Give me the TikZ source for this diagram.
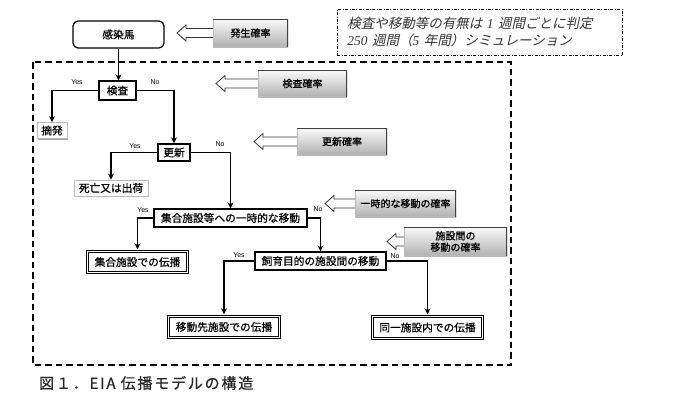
\documentclass[tikz,border=0pt]{standalone}
\usepackage{fontspec}
\setmainfont{Noto Sans CJK JP}
\newfontfamily\jpb[FakeBold=0.6]{Noto Sans CJK JP}
\newfontfamily\jpg[FakeBold=1.0]{Noto Sans CJK JP}
\newfontfamily\jit[FakeSlant=0.22]{Noto Sans CJK JP}
\newfontfamily\tms{Liberation Serif}
\newfontfamily\lsans{Liberation Sans}
\newfontfamily\capfont[LetterSpace=12,FakeBold=0.6]{Noto Sans CJK JP}
\usetikzlibrary{arrows.meta,shadows,backgrounds,calc}
\newcommand\probarrow[2]{%
  \draw[probarr] (#1) -- ($(#1)+(9,-8)$) -- ($(#1)+(9,-4.5)$)
    -- ($(#1 -| #2.west)+(1,-4.5)$) -- ($(#1 -| #2.west)+(1,4.5)$)
    -- ($(#1)+(9,4.5)$) -- ($(#1)+(9,8)$) -- cycle;}
\begin{document}
\begin{tikzpicture}[x=1pt,y=-1pt,
  flowbox/.style={draw=black, line width=1.2pt, fill=white, inner sep=1pt,
    font=\jpb\fontsize{10.7}{12}\selectfont},
  flowround/.style={flowbox, rounded corners=5pt},
  sbox/.style={draw=gray!55, line width=0.7pt, fill=white, inner sep=1pt,
    drop shadow={shadow xshift=1.3pt, shadow yshift=-1.3pt, fill=gray!70, opacity=1},
    font=\jpb\fontsize{10.7}{12}\selectfont},
  dbox/.style={draw=black, line width=1.1pt, double=white, double distance=1.6pt,
    inner sep=1pt, outer sep=2.2pt, font=\jpb\fontsize{10.7}{12}\selectfont},
  gbox/.style={draw=none, top color=gray!4, bottom color=gray!62, inner sep=1pt,
    align=center, text=black, font=\jpg\fontsize{10}{11.5}\selectfont,
    path picture={
      \draw[line width=1.2pt, gray!55] (path picture bounding box.north west) --
        (path picture bounding box.south west) -- (path picture bounding box.south east);
      \draw[line width=2pt, black!75] (path picture bounding box.north west) --
        (path picture bounding box.north east) -- (path picture bounding box.south east);}},
  probarr/.style={draw=gray!40!black, line width=0.8pt, fill=white, line join=miter},
  conn/.style={line width=1.3pt, -{Stealth[length=6pt,width=6pt,inset=1.8pt]}},
  lbl/.style={font=\lsans\fontsize{7}{8}\selectfont, inner sep=0pt}]
\useasboundingbox (0,0) rectangle (700,402);

% frames
\draw[line width=1.4pt, dash pattern=on 6.5pt off 4pt] (33,62) rectangle (511,365);
\node[draw, line width=0.7pt, dash pattern=on 3pt off 1.5pt on 0.8pt off 1.5pt,
  anchor=north west, minimum width=285pt, minimum height=46pt, align=left,
  inner xsep=10pt, text width=265pt, text=black!80,
  font=\fontsize{13.5}{17}\selectfont] (note) at (337,9)
  {\jit 検査や移動等の有無は {\tms\itshape 1} 週間ごとに判定\\
   {\tms\itshape 250} \jit 週間（{\tms\itshape 5} 年間）シミュレーション};

% main nodes
\node[flowround, minimum width=91pt, minimum height=27pt] (kansen) at (118.5,34.5) {感染馬};
\node[gbox, minimum width=75pt, minimum height=28pt] (p1) at (250.5,33) {発生確率};
\coordinate (t1) at (177,33);
\node[flowbox, minimum width=37pt, minimum height=19pt] (kensa) at (117.5,90.5) {検査};
\node[sbox, minimum width=30pt, minimum height=16pt] (teki) at (52,130.5) {摘発};
\node[gbox, minimum width=89pt, minimum height=27pt] (p2) at (302.5,83.5) {検査確率};
\coordinate (t2) at (216,83.5);
\node[flowbox, minimum width=32pt, minimum height=17pt] (koushin) at (174,152.5) {更新};
\node[gbox, minimum width=90pt, minimum height=27pt] (p3) at (342,141.5) {更新確率};
\coordinate (t3) at (254,141.5);
\node[sbox, minimum width=74pt, minimum height=16pt] (shibou) at (111,188) {死亡又は出荷};
\node[flowbox, minimum width=153pt, minimum height=18pt] (shugou) at (230.5,218) {集合施設等への一時的な移動};
\node[gbox, minimum width=101pt, minimum height=27pt] (p4) at (405.5,203.5) {一時的な移動の確率};
\coordinate (t4) at (325,203.5);
\node[dbox, minimum width=100pt, minimum height=21pt] (sdenpa) at (137.5,262) {集合施設での伝播};
\node[flowbox, minimum width=131pt, minimum height=18pt] (shiiku) at (320.5,261) {飼育目的の施設間の移動};
\node[gbox, minimum width=103pt, minimum height=29pt] (p5) at (455.5,241.5) {施設間の\\移動の確率};
\coordinate (t5) at (387,241.5);
\node[dbox, minimum width=111pt, minimum height=21pt] (idou) at (224,327) {移動先施設での伝播};
\node[dbox, minimum width=110pt, minimum height=22pt] (douitsu) at (427.5,327.5) {同一施設内での伝播};

% probability arrows
\begin{scope}[on background layer]
  \probarrow{t1}{p1}
  \probarrow{t2}{p2}
  \probarrow{t3}{p3}
  \probarrow{t4}{p4}
  \probarrow{t5}{p5}
\end{scope}

% connectors
\draw[conn] (kansen.south) -- (kansen.south |- kensa.north);
\draw[conn] (kensa.west) -| (teki.north);
\draw[conn] (kensa.east) -| (koushin.north);
\draw[conn] (koushin.west) -| (shibou.north);
\draw[conn] (koushin.east) -| (shugou.north);
\draw[conn] (shugou.west) -| (sdenpa.north);
\draw[conn] (shugou.east) -| (shiiku.north);
\draw[conn] (shiiku.west) -| (idou.north);
\draw[conn] (shiiku.east) -| (douitsu.north);

% labels
\node[lbl] (y1) at (77,82) {Yes};
\node[lbl] (n1) at (155,82) {No};
\node[lbl] (y2) at (135,146) {Yes};
\node[lbl] (n2) at (220,144) {No};
\node[lbl] (y3) at (143,210) {Yes};
\node[lbl] (n3) at (318,209) {No};
\node[lbl] (y4) at (239,255) {Yes};
\node[lbl] (n4) at (395,256) {No};

% caption
\node[anchor=west, inner sep=0pt, text=black!85, font=\capfont\fontsize{15}{18}\selectfont]
  (cap) at (39,383) {図１．EIA 伝播モデルの構造};
\end{tikzpicture}
\end{document}
